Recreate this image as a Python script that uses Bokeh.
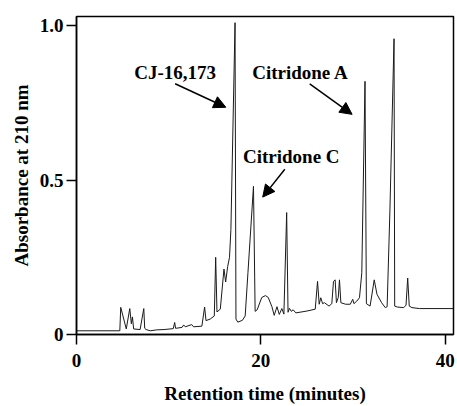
from bokeh.plotting import figure
from bokeh.models import Range1d, FixedTicker, Arrow, NormalHead, Label
from bokeh.embed import file_html
from bokeh.resources import INLINE

# Chromatogram trace
rt = [0.0, 4.7, 4.8, 5.4, 5.78, 5.95, 6.07, 6.2, 6.9, 7.3, 7.4, 7.55, 8.0, 8.7, 9.5,
      10.5, 10.65, 10.75, 11.45, 11.63, 11.8, 12.5, 12.7, 13.6, 13.9, 14.05, 14.5,
      14.95, 15.1, 15.24, 15.6, 16.0, 16.18, 16.4, 16.6, 16.75, 17.2, 17.3, 17.5,
      18.0, 18.3, 18.6, 19.2, 19.38, 19.6, 20.1, 20.5, 20.8, 21.2, 21.45, 21.75,
      22.0, 22.28, 22.5, 22.8, 22.95, 23.1, 23.3, 23.5, 23.8, 25.0, 25.9, 26.15,
      26.33, 26.5, 26.7, 26.9, 27.4, 27.7, 27.88, 28.06, 28.2, 28.4, 28.53, 28.68,
      29.2, 29.7, 29.97, 30.1, 30.4, 30.7, 30.95, 31.3, 31.45, 31.85, 32.3, 32.6,
      33.1, 33.5, 33.7, 34.0, 34.45, 34.52, 34.8, 35.5, 35.75, 35.93, 36.1, 36.4,
      37.2, 41.0]
absorbance = [0.012, 0.012, 0.088, 0.018, 0.084, 0.035, 0.057, 0.018, 0.016, 0.084,
              0.02, 0.016, 0.012, 0.015, 0.016, 0.019, 0.039, 0.02, 0.023, 0.031,
              0.025, 0.032, 0.025, 0.027, 0.089, 0.045, 0.05, 0.06, 0.25, 0.073,
              0.082, 0.212, 0.17, 0.22, 0.25, 0.34, 1.01, 0.05, 0.04, 0.046, 0.06,
              0.2, 0.48, 0.075, 0.08, 0.12, 0.126, 0.12, 0.09, 0.062, 0.09, 0.065,
              0.084, 0.066, 0.395, 0.072, 0.085, 0.075, 0.08, 0.07, 0.076, 0.082,
              0.172, 0.098, 0.119, 0.1, 0.103, 0.092, 0.1, 0.172, 0.177, 0.103, 0.12,
              0.177, 0.103, 0.098, 0.098, 0.114, 0.1, 0.108, 0.119, 0.2, 0.82, 0.1,
              0.092, 0.177, 0.13, 0.103, 0.087, 0.09, 0.4, 0.958, 0.092, 0.089,
              0.087, 0.095, 0.183, 0.092, 0.087, 0.084, 0.084]

x_ticks = [0, 20, 40]
y_ticks = [0, 0.5, 1.0]
y_tick_labels = ["0", "0.5", "1.0"]
x_title = "Retention time (minutes)"
y_title = "Absorbance at 210 nm"

# annotations: name, text x, text y, arrow start x, y, arrow end x, y
ann_names = ["CJ-16,173", "Citridone A", "Citridone C"]
ann_tx = [10.7, 24.3, 23.3]
ann_ty = [0.847, 0.847, 0.576]
arr_x0 = [10.7, 25.3, 22.6]
arr_y0 = [0.812, 0.812, 0.535]
arr_x1 = [16.2, 29.9, 20.2]
arr_y1 = [0.736, 0.713, 0.445]

FONT = "Liberation Serif"
FS = "19px"

p = figure(width=457, height=406, output_backend="svg", toolbar_location=None,
           x_range=Range1d(0, 40.9), y_range=Range1d(0, 1.03),
           min_border_left=76, min_border_right=4, min_border_top=16,
           min_border_bottom=68)
p.grid.visible = False
p.background_fill_color = "white"
p.outline_line_color = "black"
p.outline_line_width = 1.5

p.line(rt, absorbance, line_color="#1a1a1a", line_width=1)

for ax in (p.xaxis[0], p.yaxis[0]):
    ax.axis_line_width = 1.5
    ax.major_tick_line_width = 1.5
    ax.major_tick_out = 10
    ax.major_tick_in = 0
    ax.minor_tick_line_color = None
    ax.major_label_text_font = FONT
    ax.major_label_text_font_style = "bold"
    ax.major_label_text_font_size = FS
    ax.major_label_text_color = "black"
    ax.axis_label_text_font = FONT
    ax.axis_label_text_font_style = "bold"
    ax.axis_label_text_font_size = FS
    ax.axis_label_text_color = "black"

p.xaxis.ticker = FixedTicker(ticks=x_ticks)
p.yaxis.ticker = FixedTicker(ticks=y_ticks)
p.yaxis.major_label_overrides = {t: s for t, s in zip(y_ticks, y_tick_labels)}
p.xaxis.major_label_standoff = 9
p.yaxis.major_label_standoff = 3
p.xaxis.axis_label = x_title
p.yaxis.axis_label = y_title
p.xaxis.axis_label_standoff = 13
p.yaxis.axis_label_standoff = 5

for i in range(len(ann_names)):
    p.add_layout(Label(x=ann_tx[i], y=ann_ty[i], text=ann_names[i],
                       text_font=FONT, text_font_style="bold", text_font_size=FS,
                       text_align="center", text_baseline="middle", text_color="black"))
    p.add_layout(Arrow(x_start=arr_x0[i], y_start=arr_y0[i], x_end=arr_x1[i], y_end=arr_y1[i],
                       line_width=1.5, line_color="black",
                       end=NormalHead(size=12, fill_color="black", line_color="black")))

open("out.html", "w").write(file_html(p, INLINE))
